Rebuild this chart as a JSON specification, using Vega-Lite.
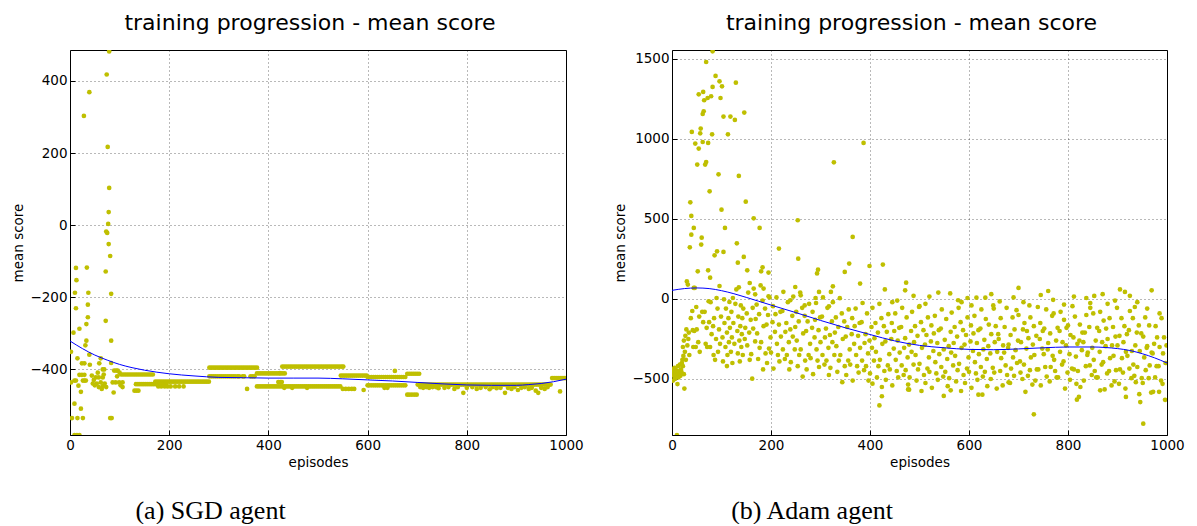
{
"$schema": "https://vega.github.io/schema/vega-lite/v6.json",
"padding": {"left": 11, "top": 11, "right": 5, "bottom": 0},
"spacing": 29,
"config": {
 "font": "DejaVu Sans",
 "view": {"stroke": "#000", "strokeWidth": 1},
 "axis": {"labelFont": "DejaVu Sans", "labelFontSize": 13.5, "labelColor": "#000", "titleFont": "DejaVu Sans", "titleFontSize": 13.5, "titleFontWeight": "normal", "titleColor": "#000", "domain": false, "tickColor": "#000", "tickSize": -5, "grid": true, "gridColor": "#000", "gridOpacity": 0.55, "gridDash": [1, 3], "gridWidth": 1, "labelPadding": 8, "format": "d", "labelFlush": false},
 "title": {"font": "DejaVu Sans", "fontSize": 22, "fontWeight": "normal", "color": "#000"}
},
"datasets": {
"sgd": [
{"e":79,"s":482},{"e":74,"s":418},{"e":39,"s":369},{"e":28,"s":303},{"e":76,"s":217},{"e":79,"s":103},{"e":78,"s":36},{"e":77,"s":3},{"e":73,"s":-18},{"e":75,"s":-22},{"e":78,"s":-53},{"e":81,"s":-86},{"e":72,"s":-129},{"e":12,"s":-119},{"e":34,"s":-118},{"e":13,"s":-153},{"e":10,"s":-188},{"e":37,"s":-188},{"e":83,"s":-191},{"e":12,"s":-231},{"e":36,"s":-221},{"e":36,"s":-256},{"e":33,"s":-275},{"e":72,"s":-266},{"e":19,"s":-288},{"e":7,"s":-299},{"e":33,"s":-321},{"e":83,"s":-321},{"e":31,"s":-334},{"e":2,"s":-352},{"e":39,"s":-360},{"e":15,"s":-370},{"e":24,"s":-384},{"e":29,"s":-384},{"e":40,"s":-388},{"e":59,"s":-384},{"e":62,"s":-370},{"e":83,"s":-383},{"e":66,"s":-401},{"e":69,"s":-401},{"e":89,"s":-404},{"e":93,"s":-404},{"e":96,"s":-404},{"e":19,"s":-416},{"e":24,"s":-416},{"e":29,"s":-416},{"e":44,"s":-418},{"e":52,"s":-423},{"e":58,"s":-423},{"e":66,"s":-423},{"e":9,"s":-432},{"e":12,"s":-432},{"e":2,"s":-437},{"e":26,"s":-432},{"e":29,"s":-432},{"e":32,"s":-432},{"e":46,"s":-440},{"e":50,"s":-445},{"e":54,"s":-440},{"e":58,"s":-450},{"e":62,"s":-437},{"e":66,"s":-447},{"e":70,"s":-440},{"e":73,"s":-450},{"e":86,"s":-437},{"e":92,"s":-437},{"e":99,"s":-437},{"e":106,"s":-437},{"e":17,"s":-446},{"e":22,"s":-463},{"e":88,"s":-465},{"e":106,"s":-450},{"e":9,"s":-496},{"e":22,"s":-510},{"e":4,"s":-536},{"e":15,"s":-536},{"e":26,"s":-536},{"e":81,"s":-536},{"e":84,"s":-536},{"e":9,"s":-583},{"e":14,"s":-583},{"e":19,"s":-583},{"e":48,"s":-430},{"e":56,"s":-410},{"e":64,"s":-455},{"e":68,"s":-415},{"e":95,"s":-420},{"e":100,"s":-410},{"e":102,"s":-445},
{"e":103,"s":-415},{"e":107,"s":-415},{"e":111,"s":-415},{"e":115,"s":-415},{"e":119,"s":-415},{"e":123,"s":-415},{"e":127,"s":-415},{"e":131,"s":-415},{"e":135,"s":-415},{"e":139,"s":-415},{"e":143,"s":-415},{"e":147,"s":-415},{"e":151,"s":-415},{"e":155,"s":-415},{"e":159,"s":-415},{"e":163,"s":-415},{"e":167,"s":-415},
{"e":133,"s":-442},{"e":137,"s":-442},{"e":141,"s":-442},{"e":145,"s":-442},{"e":149,"s":-442},{"e":153,"s":-442},{"e":157,"s":-442},{"e":161,"s":-442},{"e":165,"s":-442},{"e":169,"s":-442},{"e":173,"s":-442},{"e":177,"s":-442},{"e":181,"s":-442},{"e":185,"s":-442},{"e":189,"s":-442},{"e":193,"s":-442},
{"e":172,"s":-435},{"e":176,"s":-435},{"e":180,"s":-435},{"e":184,"s":-435},{"e":188,"s":-435},{"e":192,"s":-435},{"e":196,"s":-435},{"e":200,"s":-435},{"e":204,"s":-435},{"e":208,"s":-435},{"e":212,"s":-435},{"e":216,"s":-435},{"e":220,"s":-435},{"e":224,"s":-435},{"e":228,"s":-435},{"e":232,"s":-435},{"e":236,"s":-435},{"e":240,"s":-435},{"e":244,"s":-435},{"e":248,"s":-435},{"e":252,"s":-435},{"e":256,"s":-435},{"e":260,"s":-435},{"e":264,"s":-435},{"e":268,"s":-435},{"e":272,"s":-435},{"e":276,"s":-435},{"e":280,"s":-435},
{"e":178,"s":-448},{"e":184,"s":-448},{"e":191,"s":-448},{"e":197,"s":-448},{"e":203,"s":-448},{"e":212,"s":-448},{"e":220,"s":-448},{"e":229,"s":-448},{"e":130,"s":-460},{"e":134,"s":-460},{"e":138,"s":-460},
{"e":281,"s":-396},{"e":285,"s":-396},{"e":289,"s":-396},{"e":293,"s":-396},{"e":297,"s":-396},{"e":301,"s":-396},{"e":305,"s":-396},{"e":309,"s":-396},{"e":313,"s":-396},{"e":317,"s":-396},{"e":321,"s":-396},{"e":325,"s":-396},{"e":329,"s":-396},{"e":333,"s":-396},{"e":337,"s":-396},{"e":341,"s":-396},{"e":345,"s":-396},{"e":349,"s":-396},{"e":353,"s":-396},{"e":357,"s":-396},{"e":361,"s":-396},{"e":365,"s":-396},{"e":369,"s":-396},{"e":373,"s":-396},{"e":377,"s":-396},
{"e":281,"s":-420},{"e":285,"s":-420},{"e":289,"s":-420},{"e":293,"s":-420},{"e":297,"s":-420},{"e":301,"s":-420},{"e":305,"s":-420},{"e":309,"s":-420},{"e":313,"s":-420},{"e":317,"s":-420},{"e":321,"s":-420},{"e":325,"s":-420},{"e":329,"s":-420},{"e":333,"s":-420},{"e":338,"s":-420},{"e":341,"s":-420},{"e":348,"s":-420},{"e":351,"s":-420},{"e":364,"s":-420},{"e":368,"s":-420},{"e":372,"s":-420},
{"e":377,"s":-412},{"e":381,"s":-412},{"e":385,"s":-412},{"e":389,"s":-412},{"e":393,"s":-412},{"e":397,"s":-412},{"e":401,"s":-412},{"e":405,"s":-412},{"e":409,"s":-412},{"e":413,"s":-412},{"e":417,"s":-412},{"e":421,"s":-412},{"e":425,"s":-412},{"e":429,"s":-412},{"e":433,"s":-412},
{"e":377,"s":-448},{"e":381,"s":-448},{"e":385,"s":-448},{"e":389,"s":-448},{"e":393,"s":-448},{"e":397,"s":-448},{"e":401,"s":-448},{"e":405,"s":-448},{"e":409,"s":-448},{"e":413,"s":-448},{"e":417,"s":-448},{"e":421,"s":-448},{"e":425,"s":-448},{"e":429,"s":-448},{"e":433,"s":-448},{"e":437,"s":-448},{"e":441,"s":-448},{"e":445,"s":-448},{"e":449,"s":-448},{"e":453,"s":-448},{"e":457,"s":-448},{"e":461,"s":-448},{"e":465,"s":-448},{"e":469,"s":-448},{"e":473,"s":-448},{"e":477,"s":-448},{"e":481,"s":-448},{"e":485,"s":-448},{"e":489,"s":-448},{"e":493,"s":-448},{"e":497,"s":-448},{"e":501,"s":-448},{"e":505,"s":-448},{"e":509,"s":-448},{"e":513,"s":-448},{"e":517,"s":-448},{"e":521,"s":-448},{"e":525,"s":-448},{"e":529,"s":-448},{"e":533,"s":-448},{"e":537,"s":-448},{"e":541,"s":-448},{"e":545,"s":-448},
{"e":428,"s":-393},{"e":432,"s":-393},{"e":436,"s":-393},{"e":440,"s":-393},{"e":444,"s":-393},{"e":448,"s":-393},{"e":452,"s":-393},{"e":456,"s":-393},{"e":460,"s":-393},{"e":464,"s":-393},{"e":468,"s":-393},{"e":472,"s":-393},{"e":476,"s":-393},{"e":480,"s":-393},{"e":484,"s":-393},{"e":488,"s":-393},{"e":492,"s":-393},{"e":496,"s":-393},{"e":500,"s":-393},{"e":504,"s":-393},{"e":508,"s":-393},{"e":512,"s":-393},{"e":516,"s":-393},{"e":520,"s":-393},{"e":524,"s":-393},{"e":528,"s":-393},{"e":532,"s":-393},{"e":536,"s":-393},{"e":540,"s":-393},{"e":544,"s":-393},{"e":548,"s":-393},{"e":551,"s":-393},
{"e":546,"s":-418},{"e":550,"s":-418},{"e":554,"s":-418},{"e":558,"s":-418},{"e":562,"s":-418},{"e":566,"s":-418},{"e":570,"s":-418},{"e":574,"s":-418},{"e":578,"s":-418},{"e":582,"s":-418},{"e":586,"s":-418},{"e":590,"s":-418},{"e":594,"s":-418},{"e":598,"s":-418},
{"e":600,"s":-422},{"e":604,"s":-422},{"e":608,"s":-422},{"e":612,"s":-422},{"e":616,"s":-422},{"e":620,"s":-422},{"e":624,"s":-422},{"e":628,"s":-422},{"e":632,"s":-422},{"e":636,"s":-422},{"e":640,"s":-422},{"e":644,"s":-422},{"e":648,"s":-422},{"e":652,"s":-422},{"e":656,"s":-422},{"e":660,"s":-422},{"e":664,"s":-422},{"e":668,"s":-422},{"e":672,"s":-422},{"e":676,"s":-422},
{"e":600,"s":-445},{"e":604,"s":-445},{"e":608,"s":-445},{"e":612,"s":-445},{"e":616,"s":-445},{"e":620,"s":-445},{"e":624,"s":-445},{"e":628,"s":-445},{"e":632,"s":-445},{"e":636,"s":-445},{"e":640,"s":-445},{"e":644,"s":-445},{"e":648,"s":-445},{"e":652,"s":-445},{"e":656,"s":-445},{"e":660,"s":-445},{"e":664,"s":-445},{"e":668,"s":-445},{"e":672,"s":-445},{"e":676,"s":-445},
{"e":680,"s":-413},{"e":684,"s":-413},{"e":688,"s":-413},{"e":692,"s":-413},{"e":696,"s":-413},{"e":700,"s":-413},{"e":704,"s":-413},
{"e":680,"s":-471},{"e":684,"s":-471},{"e":689,"s":-471},{"e":694,"s":-471},{"e":699,"s":-471},
{"e":701,"s":-443},{"e":705,"s":-443},{"e":709,"s":-443},{"e":713,"s":-443},{"e":717,"s":-443},{"e":721,"s":-443},{"e":725,"s":-443},{"e":729,"s":-443},{"e":733,"s":-443},{"e":737,"s":-443},{"e":741,"s":-443},{"e":745,"s":-443},{"e":749,"s":-443},{"e":753,"s":-443},{"e":757,"s":-443},{"e":761,"s":-443},{"e":765,"s":-443},{"e":769,"s":-443},{"e":773,"s":-443},{"e":777,"s":-443},{"e":781,"s":-443},{"e":785,"s":-443},{"e":789,"s":-443},{"e":793,"s":-443},{"e":797,"s":-443},{"e":801,"s":-443},{"e":805,"s":-443},{"e":809,"s":-443},{"e":813,"s":-443},{"e":817,"s":-443},{"e":821,"s":-443},{"e":825,"s":-443},{"e":829,"s":-443},{"e":833,"s":-443},{"e":837,"s":-443},{"e":841,"s":-443},{"e":845,"s":-443},{"e":849,"s":-443},{"e":853,"s":-443},{"e":857,"s":-443},{"e":861,"s":-443},{"e":865,"s":-443},{"e":869,"s":-443},{"e":873,"s":-443},{"e":877,"s":-443},{"e":881,"s":-443},{"e":885,"s":-443},{"e":889,"s":-443},{"e":893,"s":-443},{"e":897,"s":-443},{"e":901,"s":-443},{"e":905,"s":-443},{"e":909,"s":-443},{"e":913,"s":-443},{"e":917,"s":-443},{"e":921,"s":-443},{"e":925,"s":-443},{"e":929,"s":-443},{"e":933,"s":-443},{"e":937,"s":-443},{"e":941,"s":-443},{"e":945,"s":-443},{"e":949,"s":-443},{"e":953,"s":-443},{"e":957,"s":-443},{"e":961,"s":-443},{"e":965,"s":-443},{"e":969,"s":-443},
{"e":357,"s":-455},{"e":432,"s":-452},{"e":448,"s":-452},{"e":478,"s":-452},{"e":420,"s":-436},{"e":424,"s":-436},{"e":427,"s":-436},{"e":423,"s":-411},{"e":550,"s":-455},{"e":556,"s":-455},{"e":562,"s":-455},{"e":568,"s":-455},{"e":573,"s":-455},{"e":592,"s":-458},{"e":634,"s":-452},{"e":640,"s":-452},{"e":655,"s":-405},{"e":706,"s":-450},{"e":712,"s":-452},{"e":718,"s":-450},{"e":724,"s":-452},{"e":731,"s":-450},{"e":738,"s":-450},{"e":743,"s":-453},{"e":755,"s":-452},{"e":763,"s":-450},{"e":775,"s":-455},{"e":782,"s":-450},{"e":793,"s":-466},{"e":800,"s":-452},{"e":811,"s":-450},{"e":820,"s":-455},{"e":828,"s":-452},{"e":838,"s":-450},{"e":846,"s":-456},{"e":852,"s":-450},{"e":860,"s":-453},{"e":868,"s":-452},{"e":877,"s":-466},{"e":883,"s":-452},{"e":890,"s":-455},{"e":896,"s":-450},{"e":903,"s":-458},{"e":910,"s":-452},{"e":917,"s":-450},{"e":925,"s":-455},{"e":931,"s":-452},{"e":939,"s":-460},{"e":944,"s":-466},{"e":950,"s":-452},{"e":957,"s":-455},{"e":963,"s":-450},{"e":988,"s":-462},
{"e":972,"s":-425},{"e":976,"s":-425},{"e":980,"s":-425},{"e":984,"s":-425},{"e":988,"s":-425},{"e":992,"s":-425},{"e":996,"s":-425},{"e":1000,"s":-425}
],
"sgdFit": [
{"e":0,"s":-322},{"e":25,"s":-343},{"e":50,"s":-361},{"e":75,"s":-375},{"e":100,"s":-387},{"e":125,"s":-396},{"e":150,"s":-403},{"e":200,"s":-413},{"e":250,"s":-419},{"e":300,"s":-423},{"e":350,"s":-424},{"e":400,"s":-425},{"e":450,"s":-425},{"e":500,"s":-425},{"e":550,"s":-427},{"e":600,"s":-430},{"e":650,"s":-433},{"e":700,"s":-437},{"e":750,"s":-441},{"e":800,"s":-444},{"e":850,"s":-445},{"e":900,"s":-445},{"e":925,"s":-443},{"e":950,"s":-440},{"e":975,"s":-435},{"e":1000,"s":-428}
],
"adam": [
{"e":0,"s":-440},{"e":1,"s":-470},{"e":2,"s":-510},{"e":3,"s":-455},{"e":4,"s":-480},{"e":5,"s":-430},{"e":6,"s":-500},{"e":7,"s":-460},{"e":8,"s":-445},{"e":9,"s":-475},{"e":10,"s":-850},{"e":11,"s":-532},{"e":12,"s":-420},{"e":13,"s":-490},{"e":14,"s":-465},{"e":15,"s":-450},{"e":16,"s":-410},{"e":17,"s":-480},{"e":18,"s":-440},{"e":19,"s":-455},{"e":20,"s":-400},{"e":21,"s":-380},{"e":22,"s":-420},{"e":23,"s":-356},{"e":24,"s":-470},{"e":25,"s":-560},
{"e":22,"s":-300},{"e":24,"s":-260},{"e":26,"s":-330},{"e":27,"s":-230},{"e":28,"s":-380},{"e":29,"s":-190},{"e":31,"s":-290},{"e":33,"s":-250},{"e":34,"s":-210},{"e":35,"s":-350},{"e":38,"s":-120},{"e":41,"s":-75},{"e":42,"s":-195},{"e":43,"s":-300},{"e":45,"s":-200},{"e":48,"s":-300},{"e":49,"s":-50},{"e":50,"s":-190},{"e":53,"s":-270},{"e":55,"s":-110},{"e":56,"s":-330},
{"e":30,"s":110},{"e":32,"s":90},{"e":36,"s":323},{"e":37,"s":604},{"e":39,"s":519},{"e":39,"s":402},{"e":40,"s":1044},{"e":44,"s":444},{"e":44,"s":69},{"e":46,"s":69},{"e":47,"s":971},{"e":51,"s":840},{"e":52,"s":173},{"e":54,"s":1279},{"e":54,"s":940},{"e":57,"s":1035},{"e":58,"s":1065},{"e":59,"s":340},{"e":60,"s":383},{"e":62,"s":1156},{"e":62,"s":981},{"e":63,"s":1294},{"e":64,"s":1173},{"e":65,"s":1242},{"e":67,"s":840},{"e":69,"s":1481},{"e":69,"s":856},{"e":72,"s":1256},{"e":73,"s":179},{"e":73,"s":975},{"e":74,"s":-14},{"e":76,"s":673},{"e":77,"s":133},{"e":79,"s":1267},{"e":81,"s":1029},{"e":82,"s":1548},{"e":82,"s":1325},{"e":86,"s":273},{"e":88,"s":1394},{"e":90,"s":6},{"e":91,"s":298},{"e":94,"s":779},{"e":96,"s":1360},{"e":96,"s":81},{"e":98,"s":1256},{"e":100,"s":558},{"e":101,"s":1329},{"e":104,"s":294},{"e":104,"s":1140},{"e":105,"s":-2},{"e":107,"s":444},{"e":113,"s":1029},{"e":116,"s":-19},{"e":118,"s":1140},{"e":123,"s":6},{"e":127,"s":1119},{"e":129,"s":1352},{"e":130,"s":60},{"e":131,"s":348},{"e":133,"s":227},{"e":135,"s":769},{"e":135,"s":73},{"e":145,"s":263},{"e":146,"s":1165},{"e":149,"s":608},{"e":152,"s":179},{"e":157,"s":100},{"e":165,"s":504},{"e":168,"s":29},{"e":177,"s":444},{"e":180,"s":173},{"e":183,"s":198},{"e":185,"s":65},{"e":195,"s":165},{"e":195,"s":17},{"e":216,"s":315},
{"e":61,"s":-80},{"e":63,"s":-145},{"e":66,"s":-80},{"e":68,"s":-280},{"e":70,"s":-180},{"e":71,"s":-300},{"e":75,"s":-145},{"e":77,"s":-300},{"e":78,"s":-20},{"e":80,"s":-220},{"e":83,"s":-170},{"e":84,"s":-350},{"e":85,"s":-120},{"e":87,"s":-380},{"e":89,"s":-250},{"e":92,"s":-60},{"e":93,"s":-330},{"e":95,"s":-190},{"e":97,"s":-280},{"e":99,"s":-110},{"e":102,"s":-240},{"e":103,"s":-390},{"e":106,"s":-150},{"e":108,"s":-300},{"e":109,"s":-60},{"e":111,"s":-210},{"e":112,"s":-350},{"e":114,"s":-120},{"e":115,"s":-270},{"e":117,"s":-180},{"e":119,"s":-330},{"e":120,"s":-80},{"e":121,"s":-240},{"e":122,"s":-400},{"e":124,"s":-150},{"e":126,"s":-280},{"e":128,"s":-30},{"e":132,"s":-200},{"e":133,"s":-340},{"e":134,"s":-110},{"e":136,"s":-260},{"e":137,"s":-390},{"e":138,"s":-170},{"e":139,"s":-40},{"e":140,"s":-300},{"e":141,"s":-220},{"e":142,"s":-120},{"e":143,"s":-350},{"e":144,"s":-60},{"e":147,"s":-250},{"e":148,"s":-180},
{"e":151,"s":-90},{"e":152,"s":-290},{"e":154,"s":40},{"e":156,"s":-210},{"e":157,"s":-380},{"e":159,"s":-130},
{"e":160,"s":-345},{"e":163,"s":-55},{"e":164,"s":-185},{"e":165,"s":65},{"e":168,"s":-265},{"e":169,"s":-125},
{"e":171,"s":-35},{"e":172,"s":-215},{"e":174,"s":-375},{"e":176,"s":-95},{"e":177,"s":-305},{"e":179,"s":85},
{"e":180,"s":-270},{"e":183,"s":-10},{"e":184,"s":-440},{"e":185,"s":-170},{"e":188,"s":-60},{"e":189,"s":-340},
{"e":191,"s":-160},{"e":192,"s":-400},{"e":194,"s":-100},{"e":196,"s":-310},{"e":197,"s":10},{"e":199,"s":-240},
{"e":200,"s":-335},{"e":203,"s":-145},{"e":204,"s":-45},{"e":205,"s":-435},{"e":208,"s":-205},{"e":209,"s":-95},
{"e":211,"s":10},{"e":212,"s":-280},{"e":214,"s":-350},{"e":216,"s":-160},{"e":217,"s":-390},{"e":219,"s":-80},
{"e":220,"s":-235},{"e":223,"s":-75},{"e":224,"s":-315},{"e":225,"s":45},{"e":228,"s":-375},{"e":229,"s":-205},
{"e":231,"s":-150},{"e":232,"s":-350},{"e":234,"s":-20},{"e":236,"s":-270},{"e":237,"s":-440},{"e":239,"s":-190},
{"e":240,"s":-395},{"e":243,"s":-105},{"e":244,"s":-235},{"e":245,"s":15},{"e":248,"s":-315},{"e":249,"s":-175},
{"e":251,"s":-80},{"e":252,"s":-260},{"e":254,"s":-420},{"e":256,"s":-140},{"e":257,"s":-350},{"e":259,"s":40},
{"e":260,"s":-315},{"e":263,"s":-55},{"e":264,"s":-485},{"e":265,"s":-215},{"e":268,"s":-105},{"e":269,"s":-385},
{"e":271,"s":-200},{"e":272,"s":-440},{"e":274,"s":-140},{"e":276,"s":-350},{"e":277,"s":-30},{"e":279,"s":-280},
{"e":280,"s":-370},{"e":283,"s":-180},{"e":284,"s":-80},{"e":285,"s":-470},{"e":288,"s":-240},{"e":289,"s":-130},
{"e":291,"s":-25},{"e":292,"s":-315},{"e":294,"s":-385},{"e":296,"s":-195},{"e":297,"s":-425},{"e":299,"s":-115},
{"e":300,"s":-270},{"e":303,"s":-110},{"e":304,"s":-350},{"e":305,"s":10},{"e":308,"s":-410},{"e":309,"s":-240},
{"e":311,"s":-185},{"e":312,"s":-385},{"e":314,"s":-55},{"e":316,"s":-305},{"e":317,"s":-475},{"e":319,"s":-225},
{"e":320,"s":-430},{"e":323,"s":-140},{"e":324,"s":-270},{"e":325,"s":-20},{"e":328,"s":-350},{"e":329,"s":-210},
{"e":331,"s":-115},{"e":332,"s":-295},{"e":334,"s":-455},{"e":336,"s":-175},{"e":337,"s":-385},{"e":339,"s":5},
{"e":340,"s":-350},{"e":343,"s":-90},{"e":344,"s":-520},{"e":345,"s":-250},{"e":348,"s":-140},{"e":349,"s":-420},
{"e":351,"s":-235},{"e":352,"s":-475},{"e":354,"s":-175},{"e":356,"s":-385},{"e":357,"s":-65},{"e":359,"s":-315},
{"e":360,"s":-410},{"e":363,"s":-220},{"e":364,"s":-120},{"e":365,"s":-510},{"e":368,"s":-280},{"e":369,"s":-170},
{"e":371,"s":-60},{"e":372,"s":-350},{"e":374,"s":-420},{"e":376,"s":-230},{"e":377,"s":-460},{"e":379,"s":-150},
{"e":380,"s":-305},{"e":383,"s":-145},{"e":384,"s":-385},{"e":385,"s":-25},{"e":388,"s":-445},{"e":389,"s":-275},
{"e":391,"s":-220},{"e":392,"s":-420},{"e":394,"s":-90},{"e":396,"s":-340},{"e":397,"s":-510},{"e":399,"s":-260},
{"e":400,"s":-465},{"e":403,"s":-175},{"e":404,"s":-305},{"e":405,"s":-55},{"e":408,"s":-385},{"e":409,"s":-245},
{"e":411,"s":-150},{"e":412,"s":-330},{"e":414,"s":-490},{"e":416,"s":-210},{"e":417,"s":-420},{"e":419,"s":-30},
{"e":420,"s":-380},{"e":423,"s":-120},{"e":424,"s":-550},{"e":425,"s":-280},{"e":428,"s":-170},{"e":429,"s":-450},
{"e":431,"s":-265},{"e":432,"s":-505},{"e":434,"s":-205},{"e":436,"s":-415},{"e":437,"s":-95},{"e":439,"s":-345},
{"e":440,"s":-440},{"e":443,"s":-250},{"e":444,"s":-150},{"e":445,"s":-540},{"e":448,"s":-310},{"e":449,"s":-200},
{"e":451,"s":-90},{"e":452,"s":-380},{"e":454,"s":-450},{"e":456,"s":-260},{"e":457,"s":-490},{"e":459,"s":-180},
{"e":460,"s":-335},{"e":463,"s":-175},{"e":464,"s":-415},{"e":465,"s":-55},{"e":468,"s":-475},{"e":469,"s":-305},
{"e":471,"s":-245},{"e":472,"s":-445},{"e":474,"s":-115},{"e":476,"s":-365},{"e":477,"s":-535},{"e":479,"s":-285},
{"e":480,"s":-490},{"e":483,"s":-200},{"e":484,"s":-330},{"e":485,"s":-80},{"e":488,"s":-410},{"e":489,"s":-270},
{"e":491,"s":-170},{"e":492,"s":-350},{"e":494,"s":-510},{"e":496,"s":-230},{"e":497,"s":-440},{"e":499,"s":-50},
{"e":500,"s":-405},{"e":503,"s":-145},{"e":504,"s":-575},{"e":505,"s":-305},{"e":508,"s":-195},{"e":509,"s":-475},
{"e":511,"s":-285},{"e":512,"s":-525},{"e":514,"s":-225},{"e":516,"s":-435},{"e":517,"s":-115},{"e":519,"s":-365},
{"e":520,"s":-455},{"e":523,"s":-265},{"e":524,"s":-165},{"e":525,"s":-555},{"e":528,"s":-325},{"e":529,"s":-215},
{"e":531,"s":-105},{"e":532,"s":-395},{"e":534,"s":-465},{"e":536,"s":-275},{"e":537,"s":-505},{"e":539,"s":-195},
{"e":540,"s":-345},{"e":543,"s":-185},{"e":544,"s":-425},{"e":545,"s":-65},{"e":548,"s":-485},{"e":549,"s":-315},
{"e":551,"s":-255},{"e":552,"s":-455},{"e":554,"s":-125},{"e":556,"s":-375},{"e":557,"s":-545},{"e":559,"s":-295},
{"e":560,"s":-495},{"e":563,"s":-205},{"e":564,"s":-335},{"e":565,"s":-85},{"e":568,"s":-415},{"e":569,"s":-275},
{"e":571,"s":-175},{"e":572,"s":-355},{"e":574,"s":-515},{"e":576,"s":-235},{"e":577,"s":-445},{"e":579,"s":-55},
{"e":580,"s":-405},{"e":583,"s":-145},{"e":584,"s":-575},{"e":585,"s":-305},{"e":588,"s":-195},{"e":589,"s":-475},
{"e":591,"s":-285},{"e":592,"s":-525},{"e":594,"s":-225},{"e":596,"s":-435},{"e":597,"s":-115},{"e":599,"s":-365},
{"e":600,"s":-455},{"e":603,"s":-265},{"e":604,"s":-165},{"e":605,"s":-555},{"e":608,"s":-325},{"e":609,"s":-215},
{"e":611,"s":-105},{"e":612,"s":-395},{"e":614,"s":-465},{"e":616,"s":-275},{"e":617,"s":-505},{"e":619,"s":-195},
{"e":620,"s":-345},{"e":623,"s":-185},{"e":624,"s":-425},{"e":625,"s":-65},{"e":628,"s":-485},{"e":629,"s":-315},
{"e":631,"s":-255},{"e":632,"s":-455},{"e":634,"s":-125},{"e":636,"s":-375},{"e":637,"s":-545},{"e":639,"s":-295},
{"e":640,"s":-160},{"e":643,"s":-340},{"e":644,"s":-500},{"e":645,"s":-220},{"e":648,"s":-430},{"e":649,"s":-40},
{"e":651,"s":-460},{"e":652,"s":-270},{"e":654,"s":-170},{"e":656,"s":-560},{"e":657,"s":-330},{"e":659,"s":-220},
{"e":660,"s":-250},{"e":663,"s":-450},{"e":664,"s":-120},{"e":665,"s":-370},{"e":668,"s":-540},{"e":669,"s":-290},
{"e":671,"s":-335},{"e":672,"s":-175},{"e":674,"s":-415},{"e":676,"s":-55},{"e":677,"s":-475},{"e":679,"s":-305},
{"e":680,"s":-285},{"e":683,"s":-525},{"e":684,"s":-225},{"e":685,"s":-435},{"e":688,"s":-115},{"e":689,"s":-365},
{"e":691,"s":-480},{"e":692,"s":-190},{"e":694,"s":-320},{"e":696,"s":-70},{"e":697,"s":-400},{"e":699,"s":-260},
{"e":700,"s":-100},{"e":703,"s":-390},{"e":704,"s":-460},{"e":705,"s":-270},{"e":708,"s":-500},{"e":709,"s":-190},
{"e":711,"s":-410},{"e":712,"s":-150},{"e":714,"s":-580},{"e":716,"s":-310},{"e":717,"s":-200},{"e":719,"s":-480},
{"e":720,"s":-245},{"e":723,"s":-445},{"e":724,"s":-115},{"e":725,"s":-365},{"e":728,"s":-535},{"e":729,"s":-285},
{"e":731,"s":-170},{"e":732,"s":-350},{"e":734,"s":-510},{"e":736,"s":-230},{"e":737,"s":-440},{"e":739,"s":-50},
{"e":740,"s":-440},{"e":743,"s":-250},{"e":744,"s":-150},{"e":745,"s":-540},{"e":748,"s":-310},{"e":749,"s":-200},
{"e":751,"s":-345},{"e":752,"s":-185},{"e":754,"s":-425},{"e":756,"s":-65},{"e":757,"s":-485},{"e":759,"s":-315},
{"e":760,"s":-275},{"e":763,"s":-515},{"e":764,"s":-215},{"e":765,"s":-425},{"e":768,"s":-105},{"e":769,"s":-355},
{"e":771,"s":-90},{"e":772,"s":-380},{"e":774,"s":-450},{"e":776,"s":-260},{"e":777,"s":-490},{"e":779,"s":-180},
{"e":780,"s":-490},{"e":783,"s":-200},{"e":784,"s":-330},{"e":785,"s":-80},{"e":788,"s":-410},{"e":789,"s":-270},
{"e":791,"s":-390},{"e":792,"s":-130},{"e":794,"s":-560},{"e":796,"s":-290},{"e":797,"s":-180},{"e":799,"s":-460},
{"e":800,"s":-165},{"e":803,"s":-345},{"e":804,"s":-505},{"e":805,"s":-225},{"e":808,"s":-435},{"e":809,"s":-45},
{"e":811,"s":-240},{"e":812,"s":-440},{"e":814,"s":-110},{"e":816,"s":-360},{"e":817,"s":-530},{"e":819,"s":-280},
{"e":820,"s":-450},{"e":823,"s":-260},{"e":824,"s":-160},{"e":825,"s":-550},{"e":828,"s":-320},{"e":829,"s":-210},
{"e":831,"s":-270},{"e":832,"s":-510},{"e":834,"s":-210},{"e":836,"s":-420},{"e":837,"s":-100},{"e":839,"s":-350},
{"e":840,"s":-335},{"e":843,"s":-175},{"e":844,"s":-415},{"e":845,"s":-55},{"e":848,"s":-475},{"e":849,"s":-305},
{"e":851,"s":-90},{"e":852,"s":-380},{"e":854,"s":-450},{"e":856,"s":-260},{"e":857,"s":-490},{"e":859,"s":-180},
{"e":860,"s":-490},{"e":863,"s":-200},{"e":864,"s":-330},{"e":865,"s":-80},{"e":868,"s":-410},{"e":869,"s":-270},
{"e":871,"s":-395},{"e":872,"s":-135},{"e":874,"s":-565},{"e":876,"s":-295},{"e":877,"s":-185},{"e":879,"s":-465},
{"e":880,"s":-250},{"e":883,"s":-450},{"e":884,"s":-120},{"e":885,"s":-370},{"e":888,"s":-540},{"e":889,"s":-290},
{"e":891,"s":-175},{"e":892,"s":-355},{"e":894,"s":-515},{"e":896,"s":-235},{"e":897,"s":-445},{"e":899,"s":-55},
{"e":900,"s":-290},{"e":903,"s":-530},{"e":904,"s":-230},{"e":905,"s":-440},{"e":908,"s":-120},{"e":909,"s":-370},
{"e":911,"s":-460},{"e":912,"s":-270},{"e":914,"s":-170},{"e":916,"s":-560},{"e":917,"s":-330},{"e":919,"s":-220},
{"e":920,"s":-355},{"e":923,"s":-195},{"e":924,"s":-435},{"e":925,"s":-75},{"e":928,"s":-495},{"e":929,"s":-325},
{"e":931,"s":-120},{"e":932,"s":-410},{"e":934,"s":-480},{"e":936,"s":-290},{"e":937,"s":-520},{"e":939,"s":-210},
{"e":940,"s":-425},{"e":943,"s":-165},{"e":944,"s":-595},{"e":945,"s":-325},{"e":948,"s":-215},{"e":949,"s":-495},
{"e":951,"s":-525},{"e":952,"s":-235},{"e":954,"s":-365},{"e":956,"s":-115},{"e":957,"s":-445},{"e":959,"s":-305},
{"e":960,"s":-295},{"e":963,"s":-495},{"e":964,"s":-165},{"e":965,"s":-415},{"e":968,"s":-585},{"e":969,"s":-335},
{"e":971,"s":-340},{"e":972,"s":-580},{"e":974,"s":-280},{"e":976,"s":-490},{"e":977,"s":-170},{"e":979,"s":-420},
{"e":980,"s":-240},{"e":983,"s":-420},{"e":984,"s":-580},{"e":985,"s":-300},{"e":988,"s":-510},{"e":989,"s":-120},
{"e":991,"s":-530},{"e":992,"s":-340},{"e":994,"s":-240},{"e":996,"s":-630},{"e":997,"s":-400},{"e":999,"s":-290},
{"e":249,"s":75},{"e":254,"s":492},{"e":255,"s":252},{"e":260,"s":23},{"e":268,"s":-40},{"e":290,"s":6},{"e":293,"s":160},{"e":295,"s":183},{"e":297,"s":44},{"e":317,"s":-46},{"e":321,"s":44},{"e":325,"s":79},{"e":327,"s":854},{"e":349,"s":169},{"e":358,"s":221},{"e":365,"s":388},{"e":380,"s":96},{"e":387,"s":975},{"e":399,"s":206},{"e":405,"s":-529},{"e":419,"s":-665},{"e":424,"s":-608},{"e":426,"s":215},{"e":471,"s":54},{"e":473,"s":102},{"e":477,"s":-565},{"e":479,"s":-567},{"e":549,"s":-606},{"e":562,"s":35},{"e":563,"s":-571},{"e":578,"s":-8},{"e":597,"s":6},{"e":615,"s":8},{"e":619,"s":-598},{"e":627,"s":-598},{"e":633,"s":8},{"e":680,"s":-521},{"e":700,"s":69},{"e":710,"s":-20},{"e":731,"s":-721},{"e":818,"s":-629},{"e":822,"s":-612},{"e":837,"s":6},{"e":853,"s":19},{"e":865,"s":-571},{"e":915,"s":44},{"e":917,"s":-612},{"e":940,"s":-20},{"e":946,"s":-644},{"e":952,"s":-779},{"e":969,"s":54},{"e":239,"s":-8},{"e":162,"s":-498},{"e":111,"s":-419},
{"e":455,"s":-10},{"e":488,"s":20},{"e":512,"s":-30},{"e":538,"s":40},{"e":585,"s":-20},{"e":645,"s":30},{"e":662,"s":-15},{"e":690,"s":10},{"e":722,"s":-40},{"e":745,"s":25},{"e":770,"s":-5},{"e":792,"s":-35},{"e":812,"s":15},{"e":845,"s":-25},{"e":870,"s":30},{"e":895,"s":-10},{"e":925,"s":20},{"e":960,"s":-60},{"e":985,"s":-90},{"e":430,"s":60},{"e":445,"s":-20},{"e":500,"s":-45},{"e":520,"s":15},{"e":605,"s":-40},{"e":650,"s":-60},{"e":760,"s":50},{"e":880,"s":-30},{"e":905,"s":60},{"e":935,"s":-50}
],
"adamFit": [
{"e":0,"s":54},{"e":25,"s":65},{"e":50,"s":69},{"e":75,"s":65},{"e":100,"s":52},{"e":125,"s":33},{"e":150,"s":10},{"e":175,"s":-14},{"e":200,"s":-38},{"e":250,"s":-85},{"e":300,"s":-134},{"e":350,"s":-180},{"e":400,"s":-222},{"e":450,"s":-262},{"e":500,"s":-290},{"e":550,"s":-305},{"e":600,"s":-315},{"e":650,"s":-317},{"e":700,"s":-312},{"e":750,"s":-305},{"e":800,"s":-300},{"e":850,"s":-300},{"e":875,"s":-303},{"e":900,"s":-310},{"e":925,"s":-322},{"e":950,"s":-342},{"e":975,"s":-368},{"e":1000,"s":-400}
]
},
"hconcat": [
 {
  "title": {"text": "(a) SGD agent", "orient": "bottom", "font": "Liberation Serif", "fontSize": 26, "fontWeight": "normal", "anchor": "middle", "dx": -87, "offset": 28},
  "vconcat": [
   {
    "width": 496, "height": 385,
    "title": {"text": "training progression - mean score", "offset": 15, "dx": -8},
    "layer": [
     {"data": {"name": "sgd"}, "mark": {"type": "circle", "size": 22, "color": "#bfbf00", "opacity": 1, "clip": true},
      "encoding": {
       "x": {"field": "e", "type": "quantitative", "scale": {"domain": [0, 1000], "nice": false}, "axis": {"title": "episodes", "values": [0, 200, 400, 600, 800, 1000]}},
       "y": {"field": "s", "type": "quantitative", "scale": {"domain": [-583, 486], "nice": false, "zero": false}, "axis": {"title": "mean score", "values": [-400, -200, 0, 200, 400]}}
      }},
     {"data": {"name": "sgdFit"}, "mark": {"type": "line", "color": "#0000ff", "strokeWidth": 1, "interpolate": "monotone"},
      "encoding": {"x": {"field": "e", "type": "quantitative"}, "y": {"field": "s", "type": "quantitative"}}}
    ]
   }
  ]
 },
 {
  "title": {"text": "(b) Adam agent", "orient": "bottom", "font": "Liberation Serif", "fontSize": 26, "fontWeight": "normal", "anchor": "middle", "dx": -87, "offset": 28},
  "vconcat": [
   {
    "width": 495, "height": 385,
    "title": {"text": "training progression - mean score", "offset": 15, "dx": -8},
    "layer": [
     {"data": {"name": "adam"}, "mark": {"type": "circle", "size": 22, "color": "#bfbf00", "opacity": 1, "clip": true},
      "encoding": {
       "x": {"field": "e", "type": "quantitative", "scale": {"domain": [0, 1000], "nice": false}, "axis": {"title": "episodes", "values": [0, 200, 400, 600, 800, 1000]}},
       "y": {"field": "s", "type": "quantitative", "scale": {"domain": [-850, 1556], "nice": false, "zero": false}, "axis": {"title": "mean score", "values": [-500, 0, 500, 1000, 1500]}}
      }},
     {"data": {"name": "adamFit"}, "mark": {"type": "line", "color": "#0000ff", "strokeWidth": 1, "interpolate": "monotone"},
      "encoding": {"x": {"field": "e", "type": "quantitative"}, "y": {"field": "s", "type": "quantitative"}}}
    ]
   }
  ]
 }
]
}
